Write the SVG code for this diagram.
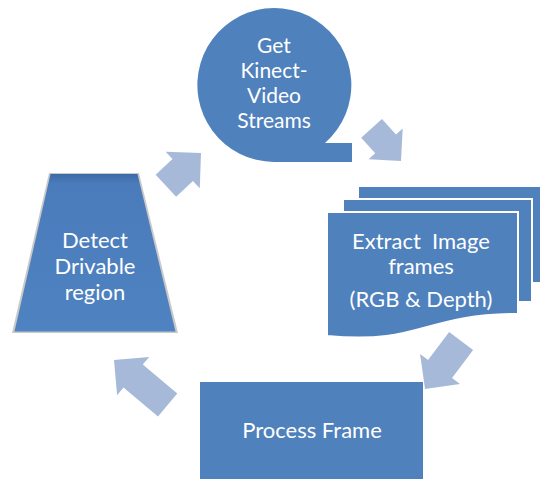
<svg xmlns="http://www.w3.org/2000/svg" width="544" height="479" viewBox="0 0 544 479">
<style>
.node{fill:#4f81bd}
.arr{fill:#a7b9d9}
.t{font-family:Lato,"Liberation Sans",sans-serif;font-size:22px;fill:#ffffff;text-anchor:middle;white-space:pre}
.c{font-size:21px}
.pg{fill:#4f81bd;stroke:#ffffff;stroke-width:2}
</style>
<defs>
<linearGradient id="trapg" x1="0" y1="0" x2="0" y2="1">
<stop offset="0" stop-color="#3d6aa6"/>
<stop offset="0.06" stop-color="#4a7cbb"/>
<stop offset="1" stop-color="#4f82c0"/>
</linearGradient>
</defs>
<rect width="544" height="479" fill="#ffffff"/>
<g id="connectors">
<path class="arr" transform="translate(201,153) rotate(-43)" d="M0,0 L-25,-25 L-25,-15 L-48,-15 L-48,15 L-25,15 L-25,25 Z"/>
<path class="arr" transform="translate(401,161) rotate(48)" d="M0,0 L-23,-23 L-23,-14 L-44,-14 L-44,14 L-23,14 L-23,23 Z"/>
<path class="arr" transform="translate(425,389) rotate(127)" d="M0,0 L-25,-25 L-25,-15 L-60,-15 L-60,15 L-25,15 L-25,25 Z"/>
<path class="arr" transform="translate(114,360) rotate(220)" d="M0,0 L-25,-25 L-25,-15 L-70,-15 L-70,15 L-25,15 L-25,25 Z"/>
</g>
<g id="get-streams">
<path class="node" d="M274,162 L352,162 L352,143 L325,143 A77,77 0 1 0 274,162 Z"/>
<text class="t c" x="274" y="53">Get</text>
<text class="t c" x="274" y="78">Kinect-</text>
<text class="t c" x="274" y="103">Video</text>
<text class="t c" x="274" y="128">Streams</text>
</g>
<g id="extract-frames">
<rect class="pg" x="358" y="186" width="183" height="97"/>
<rect class="pg" x="343" y="199" width="189" height="103"/>
<path class="pg" d="M327,212 L518,212 L518,314 C422,314 422,345 327,336 Z"/>
<text class="t" x="421" y="249">Extract  Image</text>
<text class="t" x="421" y="274">frames</text>
<text class="t" x="421" y="307">(RGB &amp; Depth)</text>
</g>
<g id="process-frame">
<rect class="node" x="200" y="382" width="223" height="100"/>
<text class="t" x="312" y="438">Process Frame</text>
</g>
<g id="detect-region">
<polygon points="49,173 139,173 178,333 12,333" fill="#c9c9c9"/>
<polygon points="50.5,174 137.5,174 175.5,331.5 14.5,331.5" fill="url(#trapg)"/>
<text class="t" x="95" y="248">Detect</text>
<text class="t" x="95" y="274">Drivable</text>
<text class="t" x="95" y="300">region</text>
</g>
</svg>
